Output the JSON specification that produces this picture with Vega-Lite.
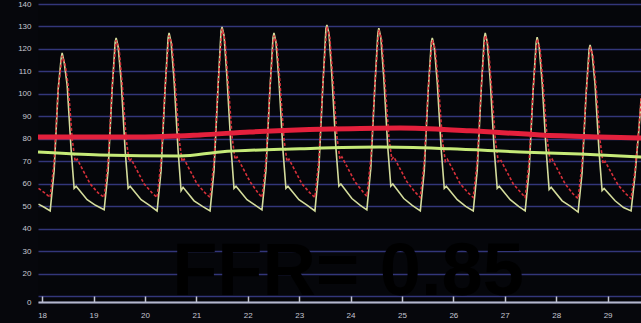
{
  "$schema": "https://vega.github.io/schema/vega-lite/v6.json",
  "width": 603,
  "height": 298,
  "autosize": {"type": "none"},
  "padding": {"left": 38, "top": 4, "right": 0, "bottom": 21},
  "background": "#06070c",
  "config": {
    "view": {"stroke": null, "fill": "#05060a"},
    "font": "Liberation Sans"
  },
  "datasets": {
    "pd": [
      {"t":17.93,"p":51},{"t":18.05,"p":49.5},
      {"t":18.157,"p":48},{"t":18.234,"p":66},{"t":18.312,"p":102},{"t":18.371,"p":116},{"t":18.39,"p":118.2},{"t":18.429,"p":114},{"t":18.487,"p":104},{"t":18.565,"p":75},{"t":18.623,"p":58},{"t":18.662,"p":59},{"t":18.876,"p":53},{"t":19.04,"p":50.5},
      {"t":19.207,"p":48.5},{"t":19.284,"p":66},{"t":19.362,"p":102},{"t":19.421,"p":123},{"t":19.44,"p":124.9},{"t":19.479,"p":121},{"t":19.537,"p":106},{"t":19.615,"p":75},{"t":19.673,"p":58},{"t":19.712,"p":59},{"t":19.926,"p":53},{"t":20.09,"p":50.5},
      {"t":20.237,"p":48},{"t":20.314,"p":66},{"t":20.392,"p":102},{"t":20.451,"p":125},{"t":20.47,"p":127.1},{"t":20.509,"p":123},{"t":20.567,"p":106},{"t":20.645,"p":75},{"t":20.703,"p":57},{"t":20.742,"p":58.5},{"t":20.956,"p":52.5},{"t":21.12,"p":50},
      {"t":21.267,"p":48},{"t":21.344,"p":66},{"t":21.422,"p":103},{"t":21.481,"p":128},{"t":21.5,"p":129.8},{"t":21.539,"p":126},{"t":21.597,"p":107},{"t":21.675,"p":76},{"t":21.733,"p":58},{"t":21.772,"p":59},{"t":21.986,"p":53},{"t":22.15,"p":50.5},
      {"t":22.277,"p":48.5},{"t":22.354,"p":66},{"t":22.432,"p":102},{"t":22.491,"p":125},{"t":22.51,"p":127.1},{"t":22.549,"p":123},{"t":22.607,"p":106},{"t":22.685,"p":75},{"t":22.743,"p":58},{"t":22.782,"p":59},{"t":22.996,"p":53},{"t":23.16,"p":50.5},
      {"t":23.307,"p":48},{"t":23.384,"p":67},{"t":23.462,"p":104},{"t":23.521,"p":129},{"t":23.54,"p":130.7},{"t":23.579,"p":127},{"t":23.637,"p":108},{"t":23.715,"p":76},{"t":23.773,"p":59},{"t":23.812,"p":60},{"t":24.026,"p":53.5},{"t":24.19,"p":50.5},
      {"t":24.317,"p":48.5},{"t":24.394,"p":67},{"t":24.472,"p":103},{"t":24.531,"p":127},{"t":24.55,"p":129.3},{"t":24.589,"p":125},{"t":24.647,"p":107},{"t":24.725,"p":76},{"t":24.783,"p":59},{"t":24.822,"p":60},{"t":25.036,"p":53.5},{"t":25.2,"p":50.5},
      {"t":25.357,"p":48},{"t":25.434,"p":66},{"t":25.512,"p":102},{"t":25.571,"p":123},{"t":25.59,"p":124.9},{"t":25.629,"p":121},{"t":25.687,"p":105},{"t":25.765,"p":75},{"t":25.823,"p":58},{"t":25.862,"p":59},{"t":26.076,"p":53},{"t":26.24,"p":50},
      {"t":26.387,"p":48},{"t":26.464,"p":66},{"t":26.542,"p":102},{"t":26.601,"p":125},{"t":26.62,"p":127.1},{"t":26.659,"p":123},{"t":26.717,"p":106},{"t":26.795,"p":75},{"t":26.853,"p":58},{"t":26.892,"p":59},{"t":27.106,"p":53},{"t":27.27,"p":50},
      {"t":27.397,"p":48},{"t":27.474,"p":66},{"t":27.552,"p":102},{"t":27.611,"p":123},{"t":27.63,"p":125.3},{"t":27.669,"p":121},{"t":27.727,"p":105},{"t":27.805,"p":75},{"t":27.863,"p":57.5},{"t":27.902,"p":58.5},{"t":28.116,"p":52.5},{"t":28.28,"p":50},
      {"t":28.427,"p":47.5},{"t":28.504,"p":65},{"t":28.582,"p":100},{"t":28.641,"p":120},{"t":28.66,"p":121.8},{"t":28.699,"p":118},{"t":28.757,"p":104},{"t":28.835,"p":74},{"t":28.893,"p":57},{"t":28.932,"p":58},{"t":29.146,"p":52.5},{"t":29.31,"p":49.5},
      {"t":29.457,"p":48},{"t":29.534,"p":64},{"t":29.612,"p":85},{"t":29.655,"p":98}
    ],
    "pa": [
      {"t":17.93,"p":58},{"t":18.05,"p":56},
      {"t":18.157,"p":54},{"t":18.234,"p":70},{"t":18.312,"p":102},{"t":18.39,"p":117},{"t":18.448,"p":113},{"t":18.507,"p":104},{"t":18.585,"p":80},{"t":18.643,"p":70},{"t":18.682,"p":71},{"t":18.935,"p":60},{"t":19.09,"p":56},
      {"t":19.207,"p":54},{"t":19.284,"p":70},{"t":19.362,"p":103},{"t":19.44,"p":124},{"t":19.498,"p":120},{"t":19.557,"p":105},{"t":19.635,"p":80},{"t":19.693,"p":70},{"t":19.732,"p":71},{"t":19.985,"p":60},{"t":20.14,"p":56},
      {"t":20.237,"p":54},{"t":20.314,"p":70},{"t":20.392,"p":103},{"t":20.47,"p":126},{"t":20.528,"p":122},{"t":20.587,"p":105},{"t":20.665,"p":80},{"t":20.723,"p":70},{"t":20.762,"p":71},{"t":21.015,"p":60},{"t":21.17,"p":56},
      {"t":21.267,"p":54},{"t":21.344,"p":70},{"t":21.422,"p":104},{"t":21.5,"p":129},{"t":21.558,"p":124},{"t":21.617,"p":106},{"t":21.695,"p":81},{"t":21.753,"p":71},{"t":21.792,"p":72},{"t":22.045,"p":61},{"t":22.2,"p":56},
      {"t":22.277,"p":54},{"t":22.354,"p":70},{"t":22.432,"p":103},{"t":22.51,"p":126},{"t":22.568,"p":122},{"t":22.627,"p":105},{"t":22.705,"p":80},{"t":22.763,"p":70},{"t":22.802,"p":71},{"t":23.055,"p":60},{"t":23.21,"p":56},
      {"t":23.307,"p":54},{"t":23.384,"p":71},{"t":23.462,"p":105},{"t":23.54,"p":130},{"t":23.598,"p":125},{"t":23.657,"p":107},{"t":23.735,"p":81},{"t":23.793,"p":71},{"t":23.832,"p":72},{"t":24.085,"p":61},{"t":24.24,"p":56.5},
      {"t":24.317,"p":54.5},{"t":24.394,"p":71},{"t":24.472,"p":104},{"t":24.55,"p":128.5},{"t":24.608,"p":124},{"t":24.667,"p":106},{"t":24.745,"p":81},{"t":24.803,"p":71},{"t":24.842,"p":72},{"t":25.095,"p":61},{"t":25.25,"p":56.5},
      {"t":25.357,"p":54},{"t":25.434,"p":70},{"t":25.512,"p":103},{"t":25.59,"p":124},{"t":25.648,"p":120},{"t":25.707,"p":105},{"t":25.785,"p":80},{"t":25.843,"p":70},{"t":25.882,"p":71},{"t":26.135,"p":60},{"t":26.29,"p":56},
      {"t":26.387,"p":54},{"t":26.464,"p":70},{"t":26.542,"p":103},{"t":26.62,"p":126},{"t":26.678,"p":122},{"t":26.737,"p":105},{"t":26.815,"p":80},{"t":26.873,"p":70},{"t":26.912,"p":71},{"t":27.165,"p":60},{"t":27.32,"p":56},
      {"t":27.397,"p":54},{"t":27.474,"p":70},{"t":27.552,"p":102},{"t":27.63,"p":124.5},{"t":27.688,"p":120},{"t":27.747,"p":104},{"t":27.825,"p":80},{"t":27.883,"p":70},{"t":27.922,"p":71},{"t":28.175,"p":60},{"t":28.33,"p":55.5},
      {"t":28.427,"p":53.5},{"t":28.504,"p":69},{"t":28.582,"p":100},{"t":28.66,"p":121},{"t":28.718,"p":117},{"t":28.777,"p":103},{"t":28.855,"p":79},{"t":28.913,"p":69},{"t":28.952,"p":70},{"t":29.205,"p":59.5},{"t":29.36,"p":55.5},
      {"t":29.457,"p":53.5},{"t":29.534,"p":66},{"t":29.612,"p":86},{"t":29.655,"p":99}
    ],
    "pam": [
      {"t":17.92,"p":80.9},{"t":19.904,"p":80.9},{"t":21.072,"p":81.8},{"t":22.04,"p":83.1},{"t":23.6,"p":84.4},{"t":24.963,"p":84.9},{"t":26.325,"p":83.6},{"t":27.687,"p":81.8},{"t":28.854,"p":80.9},{"t":29.652,"p":80.4}
    ],
    "pdm": [
      {"t":17.92,"p":74.2},{"t":19.126,"p":72.9},{"t":20.683,"p":72.4},{"t":21.461,"p":74.2},{"t":23.017,"p":75.6},{"t":24.574,"p":76.4},{"t":25.936,"p":75.6},{"t":27.298,"p":74.2},{"t":28.465,"p":73.3},{"t":29.652,"p":72}
    ],
    "lbl": [{"t":23.95,"p":10.7,"label":"FFR= 0.85"}]
  },
  "encoding": {
    "x": {
      "field": "t", "type": "quantitative",
      "scale": {"domain": [17.92, 29.65], "nice": false, "zero": false},
      "axis": {
        "title": null, "values": [18,19,20,21,22,23,24,25,26,27,28,29], "format": "d",
        "grid": false, "labelFontSize": 8, "labelColor": "#c4c6d2", "labelPadding": 15,
        "labelOverlap": false, "labelFlush": false,
        "tickColor": "#c4c6d2", "tickSize": -6, "tickWidth": 1.5,
        "domainColor": "#b4b8cc", "domainWidth": 2
      }
    },
    "y": {
      "field": "p", "type": "quantitative",
      "scale": {"domain": [7.5, 140], "nice": false, "zero": false},
      "axis": {
        "title": null, "values": [7.5,10,20,30,40,50,60,70,80,90,100,110,120,130,140],
        "labelExpr": "datum.value < 9 ? '0' : (datum.value == 10 ? '' : datum.label)",
        "labelOverlap": false, "labelFlush": false,
        "grid": true, "gridColor": "#33367a", "gridWidth": 1.5,
        "domain": false, "ticks": false,
        "labelFontSize": 8, "labelColor": "#c8c8d2", "labelPadding": 7
      }
    }
  },
  "layer": [
    {"data": {"name": "pd"}, "mark": {"type": "line", "color": "#d4dc9c", "strokeWidth": 1.6}},
    {"data": {"name": "pa"}, "mark": {"type": "line", "color": "#d8303a", "strokeWidth": 1.6, "strokeDash": [3, 2]}},
    {"data": {"name": "pam"}, "mark": {"type": "line", "color": "#e4203c", "strokeWidth": 5, "interpolate": "monotone"}},
    {"data": {"name": "pdm"}, "mark": {"type": "line", "color": "#c6ea78", "strokeWidth": 3, "interpolate": "monotone"}},
    {"data": {"name": "lbl"}, "mark": {"type": "text", "font": "Liberation Sans", "fontWeight": "bold", "fontSize": 74, "color": "#000000", "align": "center", "baseline": "alphabetic"},
     "encoding": {"text": {"field": "label"}}}
  ]
}
